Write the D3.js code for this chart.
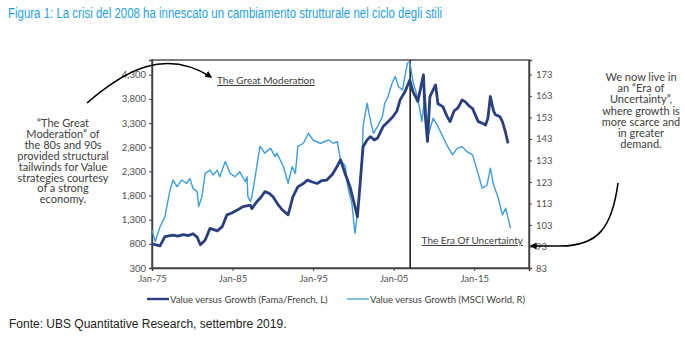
<!DOCTYPE html>
<html>
<head>
<meta charset="utf-8">
<script src="https://cdn.jsdelivr.net/npm/d3@7"></script>
<style>
  body { margin: 0; background: #fff; }
  svg text { font-family: Lato, "Noto Sans", sans-serif; fill: #404040; }
  .axis path, .axis line { stroke: #404040; }
  .axis text { font-size: 9.5px; fill: #505050; }
</style>
</head>
<body>
<div id="chart"></div>
<script>
// Fama/French value vs growth (left axis)
var famaYears = [1975.0, 1976.0, 1976.6, 1977.6, 1978.2, 1978.9, 1979.5, 1980.1, 1980.6, 1981.0,
  1981.6, 1982.2, 1983.1, 1983.7, 1984.3, 1984.9, 1985.6, 1986.3, 1987.2, 1987.4,
  1988.0, 1988.5, 1989.0, 1989.5, 1990.0, 1990.7, 1991.2, 1991.9, 1992.5, 1993.1,
  1993.8, 1994.3, 1994.9, 1995.5, 1996.1, 1996.7, 1997.4, 1997.9, 1998.4, 1999.0,
  1999.6, 2000.2, 2000.5, 2000.8, 2001.2, 2001.7, 2002.1, 2002.6, 2003.0, 2003.7,
  2004.3, 2004.9, 2005.4, 2005.8, 2006.4, 2007.0, 2007.4, 2008.0, 2008.7, 2008.9,
  2009.2, 2009.5, 2010.2, 2010.5, 2011.1, 2011.6, 2012.0, 2012.5, 2013.0, 2013.5,
  2013.9, 2014.4, 2014.8, 2015.5, 2016.0, 2016.4, 2016.7, 2017.0, 2017.4, 2017.6,
  2018.2, 2018.5, 2018.9, 2019.2];
var famaValues = [800, 760, 950, 980, 960, 990, 970, 1010, 940, 780,
  880, 1120, 1070, 1150, 1400, 1440, 1500, 1570, 1600, 1530,
  1670, 1760, 1880, 1850, 1780, 1600, 1500, 1400, 1780, 1980,
  2050, 2120, 2080, 2050, 2110, 2120, 2240, 2380, 2540, 2240,
  1970, 1570, 1360, 1970, 2810, 2950, 3020, 2950, 2990, 3230,
  3330, 3430, 3550, 3780, 3950, 4190, 3950, 3750, 4300, 3500,
  2920, 3850, 4090, 3700, 3640, 3450, 3330, 3550, 3620, 3780,
  3740, 3650, 3600, 3330, 3300, 3260, 3400, 3850, 3550, 3480,
  3430, 3330, 3100, 2880];

// MSCI World value vs growth (right axis)
var msciYears = [1975.0, 1975.4, 1976.0, 1976.6, 1977.2, 1977.6, 1978.1, 1978.7, 1979.3, 1979.7,
  1980.1, 1980.6, 1980.8, 1981.2, 1981.6, 1982.2, 1982.6, 1983.1, 1983.4, 1984.1,
  1984.7, 1985.3, 1985.9, 1986.6, 1986.8, 1986.9, 1987.2, 1987.4, 1987.8, 1988.4,
  1989.0, 1989.7, 1990.3, 1990.5, 1991.3, 1991.9, 1992.4, 1992.8, 1993.1, 1993.8,
  1994.4, 1995.0, 1995.9, 1996.9, 1997.5, 1998.0, 1998.4, 1999.0, 1999.3, 1999.8,
  2000.2, 2000.5, 2000.7, 2001.1, 2001.2, 2001.7, 2002.1, 2002.5, 2003.0, 2003.6,
  2003.9, 2004.3, 2004.8, 2005.2, 2005.6, 2006.1, 2006.7, 2007.0, 2007.4, 2008.0,
  2008.5, 2008.9, 2009.3, 2009.9, 2010.4, 2011.0, 2011.6, 2012.3, 2012.9, 2013.5,
  2014.1, 2014.8, 2015.4, 2016.0, 2016.6, 2017.0, 2017.4, 2018.0, 2018.5, 2018.9,
  2019.5];
var msciValues = [100.7, 95.3, 102.2, 106.9, 118.5, 123.9, 120.8, 123.9, 122.3, 124.6,
  120.0, 118.5, 111.6, 116.2, 127.0, 128.5, 126.2, 128.5, 125.4, 132.5,
  127.0, 125.4, 127.7, 123.1, 125.4, 116.2, 113.9, 116.2, 125.4, 139.5,
  136.4, 138.7, 134.8, 136.4, 130.3, 122.4, 130.1, 127.0, 139.5, 141.0,
  145.6, 142.5, 141.0, 142.5, 141.0, 141.7, 133.3, 130.3, 120.9, 113.2,
  99.2, 108.5, 117.8, 136.4, 148.8, 159.6, 151.9, 145.6, 148.8, 153.4,
  159.6, 162.7, 168.9, 172.0, 167.3, 165.8, 178.2, 179.0, 169.6, 161.9,
  151.1, 163.5, 144.9, 152.6, 149.5, 144.9, 140.2, 135.6, 138.7, 139.4,
  137.1, 135.6, 127.8, 120.1, 121.6, 129.4, 121.6, 115.4, 107.7, 110.8,
  101.5];

var leftTicks = [300, 800, 1300, 1800, 2300, 2800, 3300, 3800, 4300];
var rightTicks = [83, 93, 103, 113, 123, 133, 143, 153, 163, 173];
var xTickYears = [1975, 1985, 1995, 2005, 2015];
var splitYear = 2007.05;

var seriesNames = ["Value versus Growth (Fama/French, L)", "Value versus Growth (MSCI World, R)"];
var titleText = "Figura 1: La crisi del 2008 ha innescato un cambiamento strutturale nel ciclo degli stili";
var sourceText = "Fonte: UBS Quantitative Research, settembre 2019.";
var leftNote = ["\u201CThe Great", "Moderation\u201D of", "the 80s and 90s", "provided structural",
  "tailwinds for Value", "strategies courtesy", "of a strong", "economy."];
var rightNote = ["We now live in", "an \u201CEra of", "Uncertainty\u201D,", "where growth is",
  "more scarce and", "in greater", "demand."];

function toDate(y) {
  var yr = Math.floor(y);
  var start = new Date(yr, 0, 1), end = new Date(yr + 1, 0, 1);
  return new Date(start.getTime() + (y - yr) * (end - start));
}

var svgWidth = 685, svgHeight = 347;
var plot = { left: 152, right: 529, top: 60, bottom: 268 };

var svg = d3.select("#chart").append("svg")
  .attr("width", svgWidth)
  .attr("height", svgHeight);

var defs = svg.append("defs");
defs.append("marker")
  .attr("id", "head")
  .attr("viewBox", "0 0 10 10")
  .attr("refX", 8).attr("refY", 5)
  .attr("markerWidth", 7).attr("markerHeight", 7)
  .attr("markerUnits", "userSpaceOnUse")
  .attr("orient", "auto")
  .append("path")
  .attr("d", "M0,0 L10,5 L0,10 z")
  .attr("fill", "#000");

// title
svg.append("text")
  .attr("x", 8).attr("y", 18)
  .attr("textLength", 434).attr("lengthAdjust", "spacingAndGlyphs")
  .style("font-family", "'Liberation Sans Narrow', 'Liberation Sans', Arial, sans-serif")
  .style("font-size", "14px")
  .style("fill", "#1f9fd9")
  .text(titleText);

// scales
var x = d3.scaleTime()
  .domain([toDate(1975), toDate(2021.8)])
  .range([plot.left, plot.right]);
var yL = d3.scaleLinear().domain([300, 4606]).range([plot.bottom, plot.top]);
var yR = d3.scaleLinear().domain([83, 179.7]).range([plot.bottom, plot.top]);

// frame
svg.append("rect")
  .attr("x", plot.left).attr("y", plot.top)
  .attr("width", plot.right - plot.left).attr("height", plot.bottom - plot.top)
  .attr("fill", "none").attr("stroke", "#555").attr("stroke-width", 1.5);

// axes
svg.append("g").attr("class", "axis")
  .attr("transform", `translate(${plot.left},0)`)
  .call(d3.axisLeft(yL).tickValues(leftTicks).tickFormat(d3.format(",")).tickSize(3).tickPadding(3))
  .call(g => g.select(".domain").attr("stroke-width", 1.5));

svg.append("g").attr("class", "axis")
  .attr("transform", `translate(${plot.right},0)`)
  .call(d3.axisRight(yR).tickValues(rightTicks).tickSize(3).tickPadding(4))
  .call(g => g.select(".domain").attr("stroke-width", 1.5));

svg.append("g").attr("class", "axis")
  .attr("transform", `translate(0,${plot.bottom})`)
  .call(d3.axisBottom(x).tickValues(xTickYears.map(toDate)).tickFormat(d3.timeFormat("%b-%y")).tickSize(3).tickPadding(4))
  .call(g => g.select(".domain").attr("stroke-width", 1.5));

// split line
svg.append("line")
  .attr("x1", x(toDate(splitYear))).attr("x2", x(toDate(splitYear)))
  .attr("y1", plot.top).attr("y2", plot.bottom)
  .attr("stroke", "#222").attr("stroke-width", 1.6);

// lines
var msciLine = d3.line()
  .x((d, i) => x(toDate(msciYears[i])))
  .y(d => yR(d));
var famaLine = d3.line()
  .x((d, i) => x(toDate(famaYears[i])))
  .y(d => yL(d));

svg.append("path")
  .attr("d", msciLine(msciValues))
  .attr("fill", "none").attr("stroke", "#3d9ddc").attr("stroke-width", 1.4)
  .attr("stroke-linejoin", "round");

svg.append("path")
  .attr("d", famaLine(famaValues))
  .attr("fill", "none").attr("stroke", "#2a3f7f").attr("stroke-width", 2.8)
  .attr("stroke-linejoin", "round");

// underlined in-plot labels
svg.append("text")
  .attr("x", 217).attr("y", 84)
  .style("font-size", "10px").style("text-decoration", "underline")
  .text("The Great Moderation");
svg.append("text")
  .attr("x", 523).attr("y", 244).attr("text-anchor", "end")
  .style("font-size", "10px").style("text-decoration", "underline")
  .text("The Era Of Uncertainty");

// side notes
svg.append("text")
  .attr("text-anchor", "middle")
  .style("font-size", "11px")
  .selectAll("tspan").data(leftNote).enter().append("tspan")
  .attr("x", 63).attr("y", (d, i) => 127 + i * 10.9)
  .text(d => d);

svg.append("text")
  .attr("text-anchor", "middle")
  .style("font-size", "11px")
  .selectAll("tspan").data(rightNote).enter().append("tspan")
  .attr("x", 641).attr("y", (d, i) => 81 + i * 11.2)
  .text(d => d);

// arrows
svg.append("path")
  .attr("d", "M87,103 C125,70 165,48 211,77")
  .attr("fill", "none").attr("stroke", "#000").attr("stroke-width", 1.6)
  .attr("marker-end", "url(#head)");
svg.append("path")
  .attr("d", "M618,183 C612,228 598,246 560,246 L531,246")
  .attr("fill", "none").attr("stroke", "#000").attr("stroke-width", 1.6)
  .attr("marker-end", "url(#head)");

// legend
var legend = svg.append("g").attr("transform", "translate(0,299)");
var legendX = [147, 347];
var legendColor = ["#2a3f7f", "#3d9ddc"];
var legendWidth = [2.4, 1.3];
seriesNames.forEach(function(name, i) {
  legend.append("line")
    .attr("x1", legendX[i]).attr("x2", legendX[i] + 22)
    .attr("y1", 0).attr("y2", 0)
    .attr("stroke", legendColor[i]).attr("stroke-width", legendWidth[i]);
  legend.append("text")
    .attr("x", legendX[i] + 23).attr("y", 3.5)
    .style("font-size", "9.5px")
    .text(name);
});

// source
svg.append("text")
  .attr("x", 9).attr("y", 328)
  .style("font-family", "'Liberation Sans', Arial, sans-serif")
  .style("font-size", "12px")
  .style("fill", "#222")
  .text(sourceText);
</script>
</body>
</html>
